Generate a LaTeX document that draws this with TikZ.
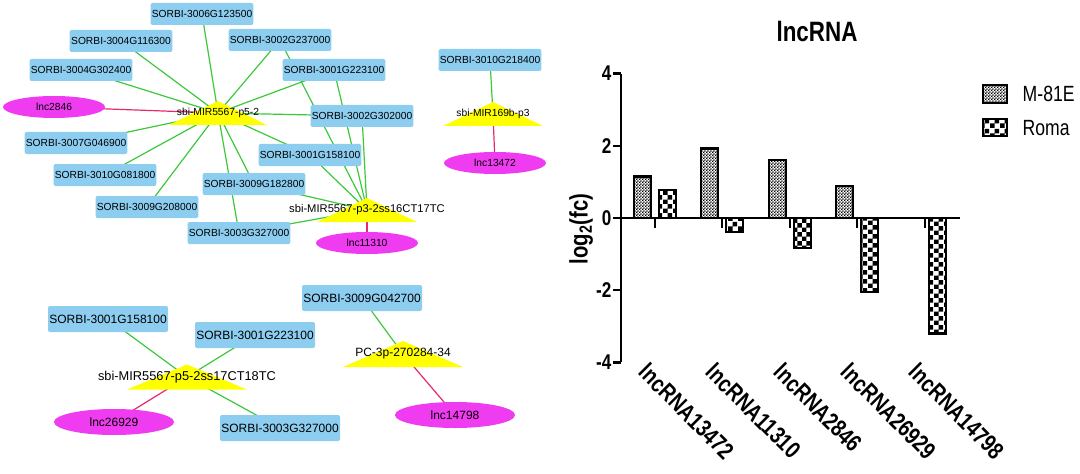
\documentclass[tikz,border=0pt]{standalone}
\usepackage{fontspec}
\setmainfont{Liberation Sans}
\newfontfamily\chartfont[FakeStretch=0.8]{Liberation Sans}
\usetikzlibrary{shapes.geometric,patterns}

\definecolor{genebox}{RGB}{140,205,240}
\definecolor{lncfill}{RGB}{240,60,240}
\definecolor{mirfill}{RGB}{255,255,0}
\definecolor{tgtgreen}{RGB}{60,200,60}
\definecolor{lncpink}{RGB}{230,40,110}

\pgfdeclarelayer{edges}
\pgfdeclarelayer{tris}
\pgfsetlayers{edges,tris,main}

% bar fillings
\pgfdeclarepatternformonly{finecheck}{\pgfpointorigin}{\pgfqpoint{2.4pt}{2.4pt}}{\pgfqpoint{2.4pt}{2.4pt}}{%
  \pgfpathrectangle{\pgfpointorigin}{\pgfqpoint{1.2pt}{1.2pt}}%
  \pgfpathrectangle{\pgfqpoint{1.2pt}{1.2pt}}{\pgfqpoint{1.2pt}{1.2pt}}%
  \pgfusepath{fill}}
\pgfdeclarepatternformonly{bigcheck}{\pgfpointorigin}{\pgfqpoint{7pt}{7pt}}{\pgfqpoint{7pt}{7pt}}{%
  \pgfpathrectangle{\pgfpointorigin}{\pgfqpoint{3.5pt}{3.5pt}}%
  \pgfpathrectangle{\pgfqpoint{3.5pt}{3.5pt}}{\pgfqpoint{3.5pt}{3.5pt}}%
  \pgfusepath{fill}}

\begin{document}
\begin{tikzpicture}[x=0.75pt, y=-0.75pt,
    gene/.style={fill=genebox, rounded corners=1.5pt, minimum width=77pt, minimum height=16.5pt,
      inner sep=0pt, font=\fontsize{7.7}{9}\selectfont},
    bgene/.style={gene, minimum width=90pt, minimum height=19.5pt, font=\fontsize{9}{11}\selectfont},
    lnc/.style={ellipse, fill=lncfill, minimum width=76.5pt, minimum height=16.5pt,
      inner sep=0pt, font=\fontsize{7.7}{9}\selectfont},
    blnc/.style={lnc, minimum width=90pt, minimum height=19.5pt, font=\fontsize{9}{11}\selectfont},
    mirtxt/.style={inner sep=0pt, font=\fontsize{7.7}{9}\selectfont},
    tgt/.style={draw=tgtgreen, line width=0.9pt},
    hit/.style={draw=lncpink, line width=0.9pt},
    bar/.style={draw=black, line width=1.8pt},
    axisline/.style={line width=1.8pt},
    ticklabel/.style={anchor=east, inner sep=1pt, font=\chartfont\bfseries\fontsize{16}{18}\selectfont},
    catlabel/.style={anchor=north west, rotate=-45, inner sep=0pt,
      font=\chartfont\bfseries\fontsize{18}{20}\selectfont}]
  \useasboundingbox (0,0) rectangle (1080,474);

  % network, upper part
  \node[gene] (g3006) at (202,14) {SORBI-3006G123500};
  \node[gene] (g3004a) at (121,41) {SORBI-3004G116300};
  \node[gene] (g3002a) at (280,40) {SORBI-3002G237000};
  \node[gene] (g3004b) at (81,70) {SORBI-3004G302400};
  \node[gene] (g3001a) at (334,70) {SORBI-3001G223100};
  \node[lnc] (l2846) at (54,107) {lnc2846};
  \node[mirtxt] (m5567) at (218,113) {sbi-MIR5567-p5-2};
  \node[gene] (g3002b) at (362,116) {SORBI-3002G302000};
  \node[gene] (g3007) at (76,143) {SORBI-3007G046900};
  \node[gene] (g3001b) at (310,155) {SORBI-3001G158100};
  \node[gene] (g3010a) at (105,175) {SORBI-3010G081800};
  \node[gene] (g3009a) at (254,184) {SORBI-3009G182800};
  \node[gene] (g3009b) at (147,207) {SORBI-3009G208000};
  \node[mirtxt, font=\fontsize{8.4}{10}\selectfont] (m5567b) at (367,210) {sbi-MIR5567-p3-2ss16CT17TC};
  \node[gene] (g3003) at (239,233) {SORBI-3003G327000};
  \node[lnc] (l11310) at (367,243) {lnc11310};

  \node[gene] (g3010b) at (490,60) {SORBI-3010G218400};
  \node[mirtxt] (m169) at (493,114) {sbi-MIR169b-p3};
  \node[lnc] (l13472) at (495,163) {lnc13472};

  % network, lower part
  \node[bgene] (h3001a) at (108,319) {SORBI-3001G158100};
  \node[bgene] (h3001b) at (255,335) {SORBI-3001G223100};
  \node[mirtxt, font=\fontsize{9.6}{11}\selectfont] (m5567c) at (187,377) {sbi-MIR5567-p5-2ss17CT18TC};
  \node[blnc] (l26929) at (114,422) {lnc26929};
  \node[bgene] (h3003) at (280,428) {SORBI-3003G327000};
  \node[bgene] (h3009) at (362,298) {SORBI-3009G042700};
  \node[mirtxt, font=\fontsize{9}{11}\selectfont] (mpc) at (403,354) {PC-3p-270284-34};
  \node[blnc] (l14798) at (455,415) {lnc14798};

  \begin{pgfonlayer}{tris}
    \foreach \n/\w/\h in {m5567/49/12, m5567b/50/12, m169/50/12, m5567c/60/12.5, mpc/60/13} {
      \fill[mirfill] ([shift={(0,-\h)}]\n.center) -- ([shift={(\w,\h)}]\n.center)
        -- ([shift={(-\w,\h)}]\n.center) -- cycle;
    }
  \end{pgfonlayer}

  \begin{pgfonlayer}{edges}
    \foreach \t in {g3006,g3004a,g3002a,g3004b,g3001a,g3002b,g3007,g3001b,g3010a,g3009a,g3009b,g3003} {
      \draw[tgt] (m5567.center) -- (\t.center);
    }
    \foreach \t in {g3002a,g3001a,g3002b,g3001b,g3009a,g3003} {
      \draw[tgt] (m5567b.center) -- (\t.center);
    }
    \foreach \t in {h3001a,h3001b,h3003} {
      \draw[tgt] (m5567c.center) -- (\t.center);
    }
    \draw[tgt] (m169.center) -- (g3010b.center);
    \draw[tgt] (mpc.center) -- (h3009.center);
    \draw[hit] (m5567.center) -- (l2846.center);
    \draw[hit] (m5567b.center) -- (l11310.center);
    \draw[hit] (m169.center) -- (l13472.center);
    \draw[hit] (m5567c.center) -- (l26929.center);
    \draw[hit] (mpc.center) -- (l14798.center);
  \end{pgfonlayer}

  % bar chart
  \node[font=\chartfont\bfseries\fontsize{21}{24}\selectfont] (title) at (817,31) {lncRNA};
  \node[rotate=90, font=\chartfont\bfseries\fontsize{19}{22}\selectfont] (ylab) at (581,229) {log\textsubscript{2}(fc)};
  \begin{scope}[shift={(621,218)}, y=27.075pt]
    \foreach \c/\m/\r/\id in {34/1.15/0.78/13472, 101/1.93/-0.38/11310, 169/1.6/-0.83/2846,
        236/0.88/-2.05/26929, 304/0/-3.2/14798} {
      \pgfmathtruncatemacro{\hasM}{ifthenelse(\m==0,0,1)}
      \ifnum\hasM=1
        \draw[bar, pattern=finecheck] ({\c-21},0) rectangle ({\c-4},\m);
      \fi
      \draw[bar, pattern=bigcheck] ({\c+4},0) rectangle ({\c+21},\r);
      \draw[axisline] (\c,0) -- (\c,-0.28);
      \node[catlabel] (cat\id) at ({\c-5},-3.97) {lncRNA\id};
    }
    \draw[axisline] (0,-4) -- (0,4);
    \draw[axisline] (0,0) -- (339,0);
    \foreach \v in {-4,-2,0,2,4} {
      \draw[axisline] (-8,\v) -- (0,\v);
      \node[ticklabel] (tick\v) at (-8,\v) {\v};
    }
  \end{scope}

  % legend
  \draw[bar, pattern=finecheck] (983,85) rectangle (1007,103);
  \draw[bar, pattern=bigcheck] (983,119) rectangle (1007,136);
  \node[anchor=west, font=\chartfont\fontsize{16.5}{18}\selectfont] (legM) at (1018,94) {M-81E};
  \node[anchor=west, font=\chartfont\fontsize{16.5}{18}\selectfont] (legR) at (1018,128) {Roma};
\end{tikzpicture}
\end{document}
